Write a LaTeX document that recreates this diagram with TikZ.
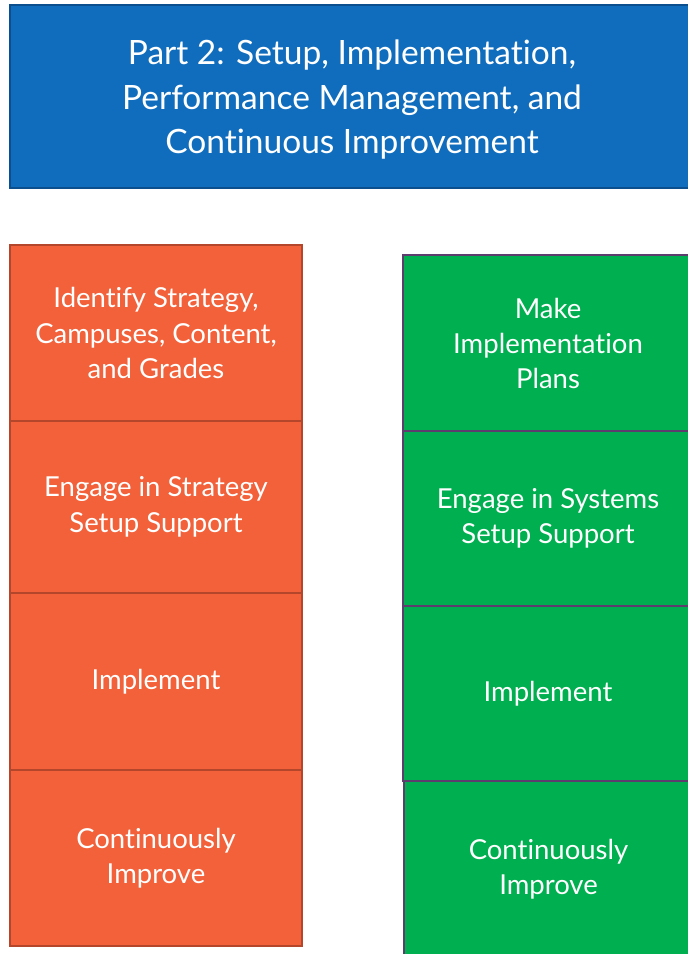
\documentclass[tikz,border=0pt]{standalone}
\usepackage{fontspec}
\setmainfont{Lato}[Ligatures=NoCommon]
\definecolor{hdrblue}{HTML}{106DBD}
\definecolor{hdrline}{HTML}{0B4F8E}
\definecolor{orfill}{HTML}{F2613A}
\definecolor{orline}{HTML}{B4462C}
\definecolor{grfill}{HTML}{00AF50}
\definecolor{grline}{HTML}{5C3D6E}
\tikzset{
  hdrbox/.style={draw=hdrline, fill=hdrblue, line width=2.5pt, rectangle, inner sep=0pt},
  hdrtext/.style={text=white, align=center, inner sep=0pt, font=\fontsize{33.5}{44.5}\selectfont},
  orbox/.style={draw=orline, fill=orfill, line width=2pt, rectangle, inner sep=0pt,
    text=white, align=center, minimum width=292pt, font=\fontsize{27.5}{35.5}\selectfont},
  grbox/.style={draw=grline, fill=grfill, line width=2pt, rectangle, inner sep=0pt,
    text=white, align=center, minimum width=290pt, font=\fontsize{27.5}{35}\selectfont}
}
\begin{document}
\begin{tikzpicture}[x=1pt,y=-1pt]
\useasboundingbox (0,0) rectangle (688,954);
\fill[white] (0,0) rectangle (688,954);
\node[hdrbox, minimum width=684pt, minimum height=183pt] (hdr) at (352,96.5) {};
\node[hdrtext] (hdrt) at (352,100)
  {Part 2: Setup, Implementation,\\Performance Management, and\\Continuous Improvement};
% left column
\node[orbox, minimum height=176pt] (o1) at (156,333) {Identify Strategy,\\Campuses, Content,\\and Grades};
\node[orbox, minimum height=172pt] (o2) at (156,507) {Engage in Strategy\\Setup Support};
\node[orbox, minimum height=177pt] (o3) at (156,681.5) {Implement};
\node[orbox, minimum height=176pt] (o4) at (156,858) {Continuously\\Improve};
% right column
\node[grbox, minimum height=176pt] (g1) at (548,343) {Make\\Implementation\\Plans};
\node[grbox, minimum height=175pt] (g2) at (548,518.5) {Engage in Systems\\Setup Support};
\node[grbox, minimum height=175pt] (g3) at (548,693.5) {Implement};
\node[grbox, minimum height=177pt] (g4) at (548.5,869.5) {Continuously\\Improve};
\end{tikzpicture}
\end{document}
